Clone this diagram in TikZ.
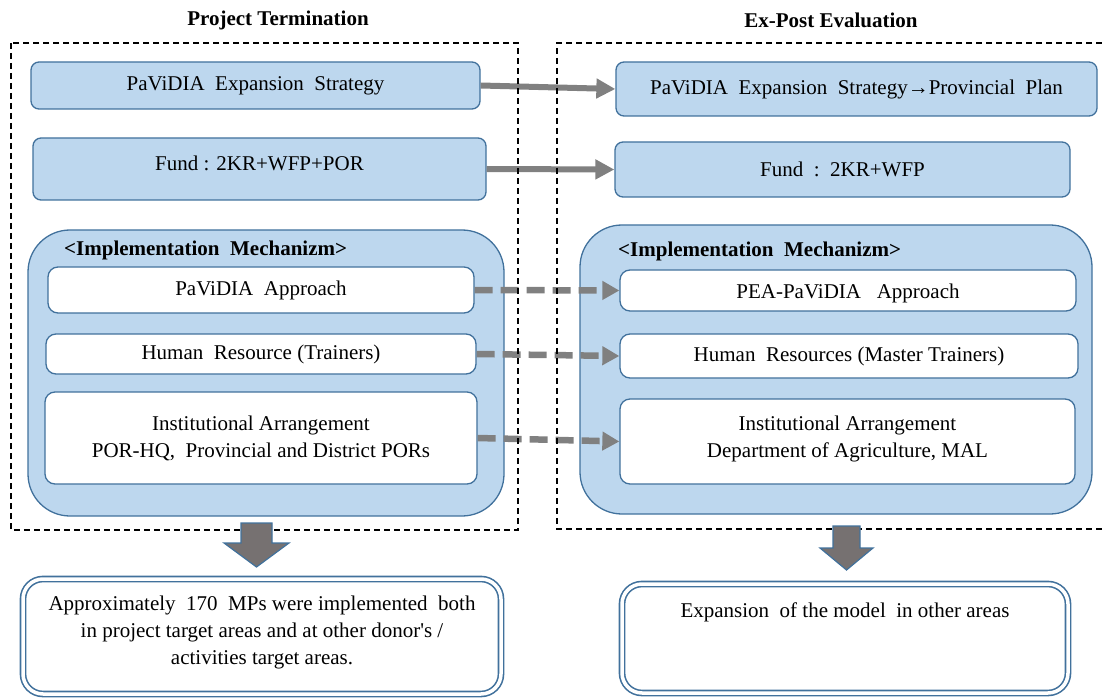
\documentclass[tikz,border=0pt]{standalone}
\usepackage{fontspec}
\setmainfont{Liberation Serif}
\usetikzlibrary{arrows.meta}
\definecolor{boxfill}{HTML}{BDD7EE}
\definecolor{boxline}{HTML}{41719C}
\definecolor{arrowgray}{HTML}{808080}
\definecolor{blockgray}{HTML}{767171}
\begin{document}
\begin{tikzpicture}[x=1pt,y=-1pt,
  every node/.style={font=\fontsize{21}{27}\selectfont, inner sep=0pt, align=center},
  bluebox/.style={draw=boxline, line width=1.3pt, fill=boxfill, rounded corners=8pt},
  mechbox/.style={draw=boxline, line width=1.3pt, fill=boxfill, rounded corners=42pt},
  whitebox/.style={draw=boxline, line width=1.3pt, fill=white, rounded corners=10pt},
  resultbox/.style={draw=boxline, line width=1.6pt, double=white, double distance=3.5pt, rounded corners=20pt},
  frame/.style={draw=black, line width=1.1pt, dash pattern=on 6pt off 4pt},
  solidflow/.style={draw=arrowgray, line width=6pt, -{Triangle[length=19pt,width=19pt]}},
  dashflow/.style={draw=arrowgray, line width=6.5pt, dash pattern=on 18pt off 8pt, -{Triangle[length=17pt,width=18pt]}},
  blockarrow/.style={fill=blockgray, draw=boxline, line width=1.2pt},
  heading/.style={font=\bfseries\fontsize{21}{25}\selectfont},
]
\useasboundingbox (0,0) rectangle (1102,700);

% column headings
\node[heading] (headL) at (278,20) {Project Termination};
\node[heading] (headR) at (831,20) {Ex-Post Evaluation};

% strategy and fund boxes
\node[bluebox, minimum width=449pt, minimum height=47pt] (stratL) at (255.5,85.5) {PaViDIA\ \ Expansion\ \ Strategy};
\node[bluebox, minimum width=453pt, minimum height=62pt,
      label={[yshift=6pt]center:Fund : 2KR+WFP+POR}] (fundL) at (259.5,169) {};
\node[bluebox, minimum width=481pt, minimum height=54pt] (stratR) at (856.5,89) {PaViDIA\ \ Expansion\ \ Strategy→Provincial\ \ Plan};
\node[bluebox, minimum width=455pt, minimum height=55pt] (fundR) at (842.5,169.5) {Fund\ \ :\ \ 2KR+WFP};

% implementation mechanism panels
\node[mechbox, minimum width=476pt, minimum height=286pt] (mechL) at (266,373) {};
\node[mechbox, minimum width=512pt, minimum height=289pt] (mechR) at (836,369.5) {};
\node[heading, anchor=west] (mechTitleL) at (64,250) {<Implementation\ \ Mechanizm>};
\node[heading, anchor=west] (mechTitleR) at (618,251) {<Implementation\ \ Mechanizm>};

\node[whitebox, minimum width=426pt, minimum height=46pt] (apprL) at (261,290) {PaViDIA\ \ Approach};
\node[whitebox, minimum width=430pt, minimum height=40pt] (hrL) at (261,354) {Human\ \ Resource (Trainers)};
\node[whitebox, minimum width=432pt, minimum height=92pt] (instL) at (261,438) {Institutional Arrangement\\POR-HQ,\ \ Provincial and District PORs};

\node[whitebox, minimum width=456pt, minimum height=41pt,
      label={[yshift=-3pt]center:PEA-PaViDIA\ \ \ Approach}] (apprR) at (848,290.5) {};
\node[whitebox, minimum width=458pt, minimum height=44pt] (hrR) at (849,356) {Human\ \ Resources (Master Trainers)};
\node[whitebox, minimum width=455pt, minimum height=85pt,
      label={[yshift=3pt]center:Institutional Arrangement\\Department of Agriculture, MAL}] (instR) at (847.5,441.5) {};

% flows between the two stages
\draw[solidflow] (stratL.east) -- (stratR.west);
\draw[solidflow] (fundL.east) -- (fundR.west);
\draw[dashflow] (apprL.east) -- (apprR.west);
\draw[dashflow] (hrL.east) -- (hrR.west);
\draw[dashflow] (instL.east) -- (instR.west);

% dashed stage frames
\draw[frame] (11,43) rectangle (518,530);
\draw[frame] (1102,43) -- (557,43) -- (557,529) -- (1102,529);

% outcome boxes
\node[resultbox, minimum width=478pt, minimum height=115pt,
      label={[yshift=4pt]center:Approximately\ \ 170\ \ MPs were implemented\ \ both\\in project target areas and at other donor\textquotesingle s /\\activities target areas.}] (outL) at (262,636.5) {};
\node[resultbox, minimum width=446pt, minimum height=109pt,
      label={[yshift=26pt]center:Expansion\ \ of the model\ \ in other areas}] (outR) at (845,638.5) {};

% block arrows down to the outcomes
\coordinate (downL) at (256.5,523);
\coordinate (downR) at (846.5,526);
\draw[blockarrow] (downL) ++(-15.5,0) -- ++(31,0) -- ++(0,20) -- ++(17,0) -- ++(-32.5,24) -- ++(-32.5,-24) -- ++(17,0) -- cycle;
\draw[blockarrow] (downR) ++(-13.5,0) -- ++(27,0) -- ++(0,22) -- ++(13,0) -- ++(-26.5,22) -- ++(-26.5,-22) -- ++(13,0) -- cycle;
\end{tikzpicture}
\end{document}
